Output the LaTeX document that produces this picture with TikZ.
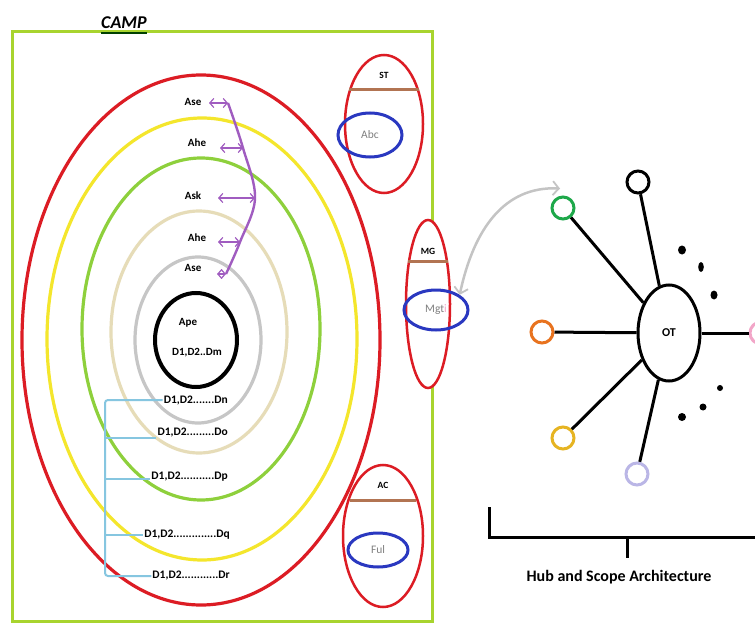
\documentclass[tikz,border=0pt]{standalone}
\usepackage{fontspec}
\setmainfont{Carlito}
\usetikzlibrary{shapes.geometric,arrows.meta,calc}

\definecolor{boxgreen}{HTML}{A8D42E}
\definecolor{ringred}{HTML}{DC1C24}
\definecolor{ringyellow}{HTML}{F4E62C}
\definecolor{ringgreen}{HTML}{8ED03C}
\definecolor{ringbeige}{HTML}{E6DCB8}
\definecolor{ringgray}{HTML}{C6C6C6}
\definecolor{linkpurple}{HTML}{A05CC0}
\definecolor{linkcyan}{HTML}{86C6E0}
\definecolor{bandbrown}{HTML}{B27452}
\definecolor{innerblue}{HTML}{2A38C0}
\definecolor{satgreen}{HTML}{1EA84A}
\definecolor{satorange}{HTML}{E8731F}
\definecolor{satyellow}{HTML}{E6B422}
\definecolor{satlav}{HTML}{BAB6E6}
\definecolor{satpink}{HTML}{F2A6C8}
\definecolor{swapgray}{HTML}{C4C4C4}

\tikzset{
  ringline/.style={line width=3.2pt},
  lbl/.style={font=\bfseries\fontsize{11}{13}\selectfont, inner sep=1pt},
  dlbl/.style={font=\bfseries\fontsize{11.5}{13}\selectfont, inner sep=1pt, anchor=east},
  caplbl/.style={font=\bfseries\fontsize{9.5}{11}\selectfont, inner sep=1pt},
  innertxt/.style={font=\fontsize{11.5}{13}\selectfont, text=gray, inner sep=1pt},
  purp/.style={linkpurple, line width=2.4pt},
  purparrow/.style={linkpurple, line width=2.4pt,
    {Straight Barb[length=4pt,width=9pt,line width=1.2pt]}-{Straight Barb[length=4pt,width=9pt,line width=1.2pt]}},
  cyanline/.style={linkcyan, line width=2pt},
  sat/.style={circle, draw, line width=3pt, minimum size=22pt, inner sep=0pt},
  spoke/.style={line width=3pt},
  blackdot/.style={fill=black},
}

\begin{document}
\begin{tikzpicture}[x=1pt,y=-1pt]
\useasboundingbox (0,0) rectangle (755,623);
\fill[white] (0,0) rectangle (755,623);

% outer frame with its title
\draw[boxgreen, line width=3pt] (12,32) rectangle (432,621);
\node[font=\bfseries\itshape\fontsize{18}{20}\selectfont, inner sep=0pt, anchor=base] (camp) at (124,29) {CAMP};
\draw[black!75!green, line width=2.5pt] (camp.base west) ++(0,4) coordinate (ul) -- (ul -| camp.base east);

% concentric rings
\draw[ringred, ringline]    (201,340) ellipse [x radius=179pt, y radius=265pt];
\draw[ringyellow, ringline] (202,339) ellipse [x radius=155pt, y radius=221pt];
\draw[ringgreen, ringline]  (201,329) ellipse [x radius=119pt, y radius=171pt];
\draw[ringbeige, ringline]  (199,332) ellipse [x radius=88pt, y radius=121pt];
\draw[ringgray, ringline]   (198,340) ellipse [x radius=63pt, y radius=83pt];
\draw[black, line width=4pt] (196,340) ellipse [x radius=41pt, y radius=47pt];
\node[lbl] (ape) at (188,323) {Ape};
\node[lbl] (dm) at (197,353) {D1,D2..Dm};

% ring labels tied to the purple spine
\node[lbl] (ase1) at (193,102) {Ase};
\node[lbl] (ahe1) at (197,143) {Ahe};
\node[lbl] (ask)  at (193,196) {Ask};
\node[lbl] (ahe2) at (197,238) {Ahe};
\node[lbl] (ase2) at (193,268) {Ase};

\coordinate (p1) at (228,103);
\coordinate (p2) at (243,148);
\coordinate (p3) at (255,198);
\coordinate (p4) at (240,242);
\coordinate (p5) at (226,274);
\draw[purp] plot[smooth, tension=0.6] coordinates {(p1) (p2) (p3) (p4) (p5)};
\draw[purparrow] (p1) -- ($(p1)+(-19,0)$) coordinate (a1);
\draw[purparrow] (p2) -- ($(p2)+(-23,0)$) coordinate (a2);
\draw[purparrow] (p3) -- ($(p3)+(-37,0)$) coordinate (a3);
\draw[purparrow] (p4) -- ($(p4)+(-22,0)$) coordinate (a4);
\draw[purparrow] (p5) -- ($(p5)+(-9,0)$) coordinate (a5);

% data labels on the lower side of the rings
\node[dlbl] (dn) at (229,401) {D1,D2.......Dn};
\node[dlbl] (do) at (229,433) {D1,D2.........Do};
\node[dlbl] (dp) at (229,477) {D1,D2...........Dp};
\node[dlbl] (dq) at (231,535) {D1,D2..............Dq};
\node[dlbl] (dr) at (231,576) {D1,D2............Dr};

\coordinate (v1) at (105,400);
\coordinate (v2) at (105,438);
\coordinate (v3) at (105,479);
\coordinate (v4) at (105,535);
\coordinate (v5) at (105,576);
\draw[cyanline, rounded corners=3pt] (v1 -| dn.west) -- (v1) -- (v5) -- (v5 -| dr.west);
\draw[cyanline] (v2) -- (v2 -| do.west);
\draw[cyanline] (v3) -- (v3 -| dp.west);
\draw[cyanline] (v4) -- (v4 -| dq.west);

% ST container
\draw[ringred, line width=2.5pt] (384,124) ellipse [x radius=39pt, y radius=69pt];
\draw[bandbrown, line width=3pt] (349,90) -- (419,90);
\node[caplbl] (st) at (384,75) {ST};
\node[ellipse, draw=innerblue, line width=3pt, minimum width=64pt, minimum height=44pt, inner sep=0pt, innertxt] (abc) at (370,135) {Abc};

% MG container sitting on the frame edge
\draw[ringred, line width=2.5pt, fill=white] (428,304) ellipse [x radius=22pt, y radius=84pt];
\draw[bandbrown, line width=3pt] (408,261) -- (448,261);
\node[caplbl] (mg) at (428,251) {MG};
\node[ellipse, draw=innerblue, line width=3pt, minimum width=64pt, minimum height=40pt, inner sep=0pt, innertxt] (mgt) at (436,310) {Mgt\textcolor{satpink}{i}};

% AC container
\draw[ringred, line width=2.5pt] (383,536) ellipse [x radius=40pt, y radius=71pt];
\draw[bandbrown, line width=3pt] (350,500) -- (416,500);
\node[caplbl] (ac) at (383,485) {AC};
\node[ellipse, draw=innerblue, line width=3pt, minimum width=60pt, minimum height=34pt, inner sep=0pt, innertxt] (ful) at (378,550) {Ful};

% hub and spokes
\node[ellipse, draw, line width=3pt, minimum width=62pt, minimum height=96pt, inner sep=0pt,
      font=\bfseries\fontsize{12}{14}\selectfont] (ot) at (669,333) {OT};
\node[sat, draw=satgreen]  (sg) at (563,208) {};
\node[sat, draw=black]     (sk) at (638,182) {};
\node[sat, draw=satorange] (so) at (542,332) {};
\node[sat, draw=satyellow] (sy) at (563,438) {};
\node[sat, draw=satlav]    (sl) at (637,474) {};
\node[sat, draw=satpink]   (sp) at (761,333) {};
\foreach \s in {sg,sk,so,sy,sl,sp} \draw[spoke] (\s) -- (ot);

\fill[blackdot] (682,250) ellipse [x radius=4pt, y radius=4.5pt];
\fill[blackdot] (701,267) ellipse [x radius=2.8pt, y radius=5pt];
\fill[blackdot] (714,295) ellipse [x radius=3.5pt, y radius=4.5pt];
\fill[blackdot] (720,388) circle [radius=3pt];
\fill[blackdot] (703,407) circle [radius=3.5pt];
\fill[blackdot] (682,417) circle [radius=4pt];

% two-way link between the MG unit and the hub
\draw[swapgray, line width=2.5pt,
      {Straight Barb[length=6pt,width=14pt,line width=1.8pt]}-{Straight Barb[length=6pt,width=14pt,line width=1.8pt]}]
  (mgt.north east) .. controls (474,228) and (505,186) .. ($(sg.north)+(-3,-7)$);

% caption bracket
\coordinate (b1) at (489,507);
\coordinate (b2) at (489,537);
\coordinate (b3) at (760,537);
\coordinate (b4) at (627,537);
\node[font=\bfseries\fontsize{16}{18}\selectfont, inner sep=1pt] (hub) at (619,577) {Hub and Scope Architecture};
\draw[line width=3pt] (b1) -- (b2) -- (b3);
\draw[line width=3pt] (b4) -- ($(b4)+(0,21)$) coordinate (b5);
\end{tikzpicture}
\end{document}
